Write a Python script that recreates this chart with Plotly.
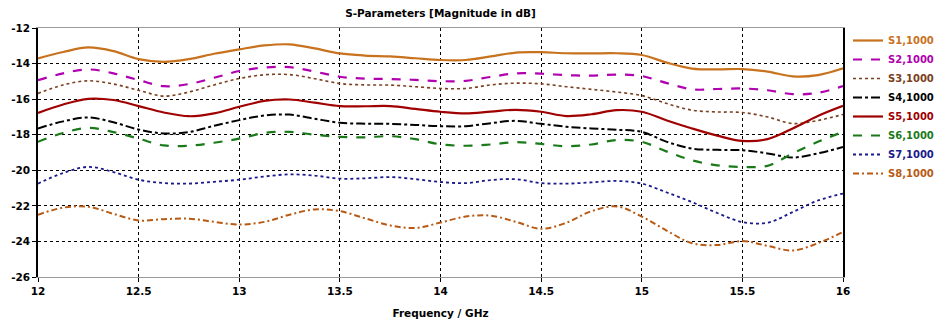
import plotly.graph_objects as go

freq = [12.0, 12.125, 12.25, 12.375, 12.5, 12.625, 12.75, 12.875,
        13.0, 13.125, 13.25, 13.375, 13.5, 13.625, 13.75, 13.875,
        14.0, 14.125, 14.25, 14.375, 14.5, 14.625, 14.75, 14.875,
        15.0, 15.125, 15.25, 15.375, 15.5, 15.625, 15.75, 15.875, 16.0]

s1 = [-13.71, -13.35, -13.09, -13.3, -13.75, -13.9, -13.75, -13.45,
      -13.2, -12.98, -12.92, -13.15, -13.43, -13.55, -13.6, -13.7,
      -13.8, -13.8, -13.6, -13.38, -13.36, -13.42, -13.43, -13.42,
      -13.52, -13.95, -14.28, -14.33, -14.31, -14.45, -14.72, -14.65, -14.27]
s2 = [-14.93, -14.55, -14.33, -14.55, -14.93, -15.27, -15.15, -14.8,
      -14.42, -14.22, -14.2, -14.45, -14.74, -14.85, -14.87, -14.92,
      -14.99, -14.97, -14.75, -14.55, -14.57, -14.65, -14.68, -14.62,
      -14.7, -15.1, -15.45, -15.43, -15.4, -15.5, -15.72, -15.65, -15.27]
s3 = [-15.68, -15.2, -14.97, -15.15, -15.5, -15.83, -15.6, -15.2,
      -14.84, -14.63, -14.62, -14.85, -15.12, -15.2, -15.21, -15.3,
      -15.4, -15.4, -15.2, -15.1, -15.14, -15.3, -15.45, -15.6,
      -15.8, -16.25, -16.62, -16.72, -16.75, -17.0, -17.37, -17.2, -16.86]
s4 = [-17.65, -17.25, -17.03, -17.3, -17.71, -17.93, -17.85, -17.5,
      -17.18, -16.92, -16.87, -17.1, -17.33, -17.38, -17.39, -17.45,
      -17.52, -17.52, -17.35, -17.22, -17.39, -17.55, -17.65, -17.72,
      -17.84, -18.4, -18.78, -18.85, -18.87, -19.05, -19.28, -19.05, -18.69]
s5 = [-16.77, -16.3, -15.98, -16.05, -16.39, -16.75, -16.96, -16.8,
      -16.43, -16.1, -16.02, -16.2, -16.39, -16.4, -16.39, -16.55,
      -16.71, -16.8, -16.7, -16.6, -16.71, -16.95, -16.85, -16.62,
      -16.71, -17.2, -17.65, -18.05, -18.35, -18.25, -17.65, -16.95, -16.38]
s6 = [-18.4, -17.9, -17.62, -17.85, -18.22, -18.6, -18.62, -18.45,
      -18.22, -17.9, -17.84, -18.0, -18.12, -18.15, -18.08, -18.25,
      -18.54, -18.62, -18.55, -18.42, -18.52, -18.65, -18.55, -18.3,
      -18.4, -18.95, -19.44, -19.72, -19.81, -19.75, -19.05, -18.4, -17.84]
s7 = [-20.75, -20.15, -19.81, -20.1, -20.53, -20.72, -20.75, -20.65,
      -20.53, -20.35, -20.23, -20.3, -20.47, -20.45, -20.38, -20.5,
      -20.66, -20.72, -20.55, -20.5, -20.72, -20.75, -20.68, -20.6,
      -20.75, -21.25, -21.79, -22.4, -22.91, -22.95, -22.35, -21.7, -21.31]
s8 = [-22.5, -22.1, -22.05, -22.45, -22.82, -22.75, -22.72, -22.9,
      -23.05, -22.9, -22.5, -22.2, -22.3, -22.7, -23.1, -23.24,
      -22.94, -22.6, -22.55, -22.9, -23.29, -22.95, -22.3, -22.03,
      -22.6, -23.4, -24.1, -24.2, -23.98, -24.25, -24.51, -24.1, -23.47]

names = ["S1,1000", "S2,1000", "S3,1000", "S4,1000",
         "S5,1000", "S6,1000", "S7,1000", "S8,1000"]
series = [s1, s2, s3, s4, s5, s6, s7, s8]
colors = ["#c8721e", "#b000b0", "#7a4020", "#000000",
          "#a00000", "#1a7a1a", "#1a1a8c", "#b85a14"]
dashes = ["solid", "dash", "dot", "dashdot",
          "solid", "dash", "dot", "6px,3px,2px,3px"]
widths = [2.2, 2.2, 1.6, 2.0, 2.2, 2.2, 1.8, 2.0]

x_ticks = [12, 12.5, 13, 13.5, 14, 14.5, 15, 15.5, 16]
x_tick_labels = ["12", "12.5", "13", "13.5", "14", "14.5", "15", "15.5", "16"]
y_ticks = [-26, -24, -22, -20, -18, -16, -14, -12]

fig = go.Figure()
for nm, ys, c, d, w in zip(names, series, colors, dashes, widths):
    fig.add_trace(go.Scatter(
        x=freq, y=ys, mode="lines",
        name=f"<b><span style='color:{c}'>{nm}</span></b>",
        line=dict(color=c, dash=d, width=w, shape="spline", smoothing=1.0),
    ))

font_family = "DejaVu Sans"
fig.update_layout(
    width=936, height=320,
    margin=dict(l=38, r=93, t=28, b=43, autoexpand=False),
    paper_bgcolor="white", plot_bgcolor="white",
    font=dict(family=font_family, size=11, color="#000000"),
    title=dict(text="<b>S-Parameters [Magnitude in dB]</b>",
               x=0.5, xref="paper", xanchor="center",
               y=1 - 13 / 320, yref="container", yanchor="middle",
               font=dict(family=font_family, size=10.5, color="#000")),
    showlegend=True,
    legend=dict(x=(848 - 38) / 805, xanchor="left",
                y=1 + 2 / 249, yanchor="top",
                bgcolor="rgba(0,0,0,0)", borderwidth=0,
                font=dict(family=font_family, size=10),
                tracegroupgap=0, itemwidth=30),
    xaxis=dict(range=[12, 16], tickvals=x_ticks, ticktext=[f"<b>{t}</b>" for t in x_tick_labels],
               showgrid=True, gridcolor="#000000", griddash="dot", gridwidth=1,
               showline=True, linecolor="#9a9a9a", linewidth=1, mirror=True,
               ticks="outside", ticklen=4, tickcolor="#000", zeroline=False,
               tickfont=dict(size=10.5), automargin=False,
               title=dict(text="<b>Frequency / GHz</b>", standoff=14,
                          font=dict(size=10.5))),
    yaxis=dict(range=[-26, -12], tickvals=y_ticks,
               ticktext=[f"<b>{t}</b>" for t in y_ticks],
               showgrid=True, gridcolor="#000000", griddash="dot", gridwidth=1,
               showline=True, linecolor="#000000", linewidth=1.5, mirror=True,
               ticks="outside", ticklen=4, tickcolor="#000", zeroline=False,
               tickfont=dict(size=10.5), automargin=False),
)

fig.write_html("out.html", config={"displayModeBar": False},
               post_script="document.body.style.margin='0';document.body.style.overflow='hidden';")
